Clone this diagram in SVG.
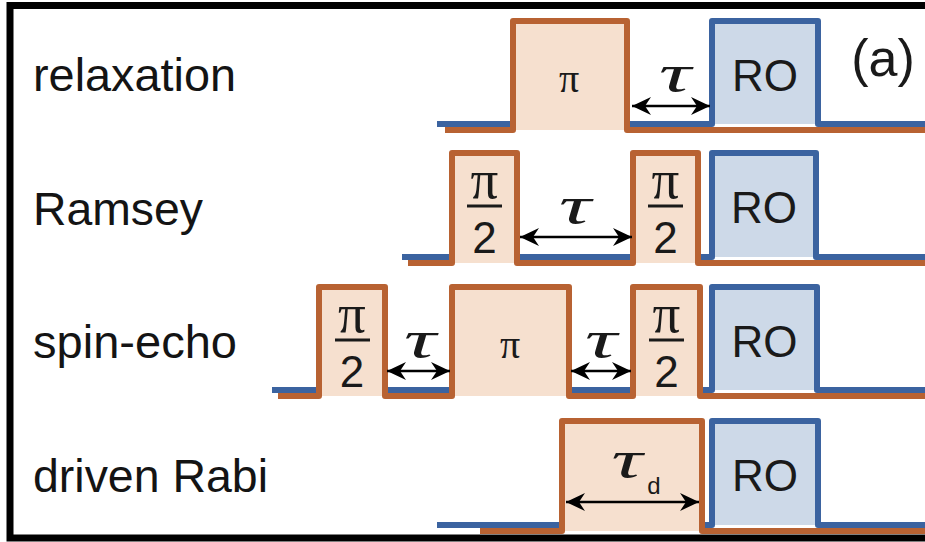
<svg xmlns="http://www.w3.org/2000/svg" width="925" height="542" viewBox="0 0 925 542">
<style>
.lbl{font-family:"Liberation Sans",Arial,sans-serif;font-size:46px;fill:#141414}
.ro{font-family:"Liberation Sans",Arial,sans-serif;font-size:44px;fill:#1a1a1a;text-anchor:middle}
.pi{font-family:"Liberation Serif","Times New Roman",serif;fill:#1a1a1a;text-anchor:middle}
.tau{font-family:"Liberation Serif","Times New Roman",serif;font-style:italic;font-size:52px;fill:#1a1a1a;text-anchor:middle}
.two{font-family:"Liberation Sans",Arial,sans-serif;font-size:44px;fill:#1a1a1a;text-anchor:middle}
.blue{stroke:#3B63A0;stroke-width:6;fill:#CDD9E8;stroke-linejoin:round}
.org{stroke:#B86232;stroke-width:6;fill:#F6E0CF;stroke-linejoin:round}
.bar{stroke:#1a1a1a;stroke-width:3}
.arr{stroke:#000;stroke-width:2.5;fill:none;marker-start:url(#ah);marker-end:url(#ah)}
</style>
<defs>
<marker id="ah" markerUnits="userSpaceOnUse" markerWidth="20" markerHeight="20" refX="19" refY="9" orient="auto-start-reverse" viewBox="0 0 20 18">
<path d="M0,0 L19,9 L0,18 L6,9 Z" fill="#000"/>
</marker>
</defs>
<rect x="0" y="0" width="925" height="542" fill="#fff"/>
<rect id="frame" x="10" y="5.5" width="940" height="532.5" fill="none" stroke="#000" stroke-width="7"/>

<g id="relaxation">
<text class="lbl" x="33" y="91" textLength="203" lengthAdjust="spacingAndGlyphs">relaxation</text>
<path class="blue" d="M437,124 H712 V21 H818 V124 H925"/>
<path class="org" d="M445,130 H513 V21 H627 V130 H925"/>
<text class="pi" x="569" y="92" font-size="40">π</text>
<text class="tau" x="675" y="91" textLength="32" lengthAdjust="spacingAndGlyphs">τ</text>
<text class="ro" x="765" y="91">RO</text>
<text class="ro" x="883" y="76" style="font-size:52px">(a)</text>
</g>

<g id="ramsey">
<text class="lbl" x="33" y="225" textLength="170" lengthAdjust="spacingAndGlyphs">Ramsey</text>
<path class="blue" d="M402,257 H712 V153 H816 V257 H925"/>
<path class="org" d="M408,263 H452 V153 H517 V263 H633 V153 H698 V263 H925"/>
<text class="pi" x="484.5" y="198" font-size="55">π</text>
<line class="bar" x1="467" y1="206" x2="502" y2="206"/>
<text class="two" x="484.5" y="253">2</text>
<text class="pi" x="665.5" y="198" font-size="55">π</text>
<line class="bar" x1="648" y1="206" x2="683" y2="206"/>
<text class="two" x="665.5" y="253">2</text>
<text class="tau" x="575" y="223" textLength="32" lengthAdjust="spacingAndGlyphs">τ</text>
<text class="ro" x="764" y="223">RO</text>
</g>

<g id="spin-echo">
<text class="lbl" x="33" y="358" textLength="204" lengthAdjust="spacingAndGlyphs">spin-echo</text>
<path class="blue" d="M272,390 H712 V287 H817 V390 H925"/>
<path class="org" d="M278,396 H319 V287 H385 V396 H452 V287 H569 V396 H633 V287 H700 V396 H925"/>
<text class="pi" x="352" y="332" font-size="55">π</text>
<line class="bar" x1="335" y1="340" x2="370" y2="340"/>
<text class="two" x="352" y="387">2</text>
<text class="pi" x="510" y="358" font-size="40">π</text>
<text class="pi" x="666.5" y="332" font-size="55">π</text>
<line class="bar" x1="649" y1="340" x2="684" y2="340"/>
<text class="two" x="666.5" y="387">2</text>
<text class="tau" x="420" y="357" textLength="32" lengthAdjust="spacingAndGlyphs">τ</text>
<text class="tau" x="601" y="357" textLength="32" lengthAdjust="spacingAndGlyphs">τ</text>
<text class="ro" x="764.5" y="357">RO</text>
</g>

<g id="driven-rabi">
<text class="lbl" x="33" y="492" textLength="235" lengthAdjust="spacingAndGlyphs">driven Rabi</text>
<path class="blue" d="M437,525 H712 V421 H818 V525 H925"/>
<path class="org" d="M480,531 H562 V421 H702 V531 H925"/>
<text class="tau" x="627" y="477" textLength="31" lengthAdjust="spacingAndGlyphs">τ</text>
<text class="ro" x="654" y="494" style="font-size:24px">d</text>
<text class="ro" x="765" y="491">RO</text>
</g>

<g id="connectors">
<line class="arr" x1="632" y1="106" x2="710" y2="106"/>
<line class="arr" x1="520" y1="237" x2="632" y2="237"/>
<line class="arr" x1="387" y1="371" x2="450" y2="371"/>
<line class="arr" x1="571" y1="371" x2="631" y2="371"/>
<line class="arr" x1="566" y1="502" x2="699" y2="502"/>
</g>
</svg>
